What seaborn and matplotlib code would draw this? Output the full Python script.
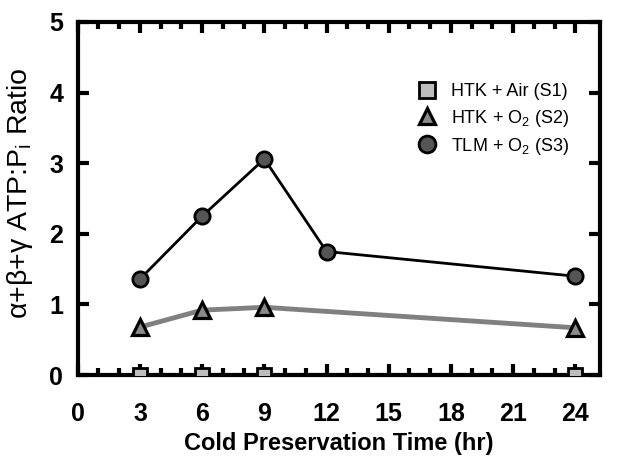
import matplotlib
matplotlib.use("Agg")
import matplotlib.pyplot as plt
import pandas as pd
import numpy as np
import seaborn as sns

# data
time_s1 = [3, 6, 9, 24]
ratio_s1 = [0.0, 0.0, 0.0, 0.0]
time_s2 = [3, 6, 9, 24]
ratio_s2 = [0.68, 0.92, 0.96, 0.67]
time_s3 = [3, 6, 9, 12, 24]
ratio_s3 = [1.36, 2.25, 3.06, 1.75, 1.40]

sns.set_style("ticks")
plt.rcParams['font.family'] = ['Liberation Sans', 'DejaVu Sans']
plt.rcParams['mathtext.default'] = 'regular'
plt.rcParams['text.color'] = 'black'
plt.rcParams['axes.labelcolor'] = 'black'
plt.rcParams['xtick.color'] = 'black'
plt.rcParams['ytick.color'] = 'black'
plt.rcParams['axes.edgecolor'] = 'black'

fig = plt.figure(figsize=(6.22, 4.66), dpi=100)
ax = fig.add_axes([0.125, 0.195, 0.84, 0.758])

sns.lineplot(x=time_s1, y=ratio_s1, ax=ax, color='#b0b0b0', lw=3, zorder=2)
sns.lineplot(x=time_s1, y=ratio_s1, ax=ax, color='none', lw=0, marker='s', markersize=10,
             markerfacecolor='#bdbdbd', markeredgecolor='black', markeredgewidth=2,
             label='HTK + Air (S1)', zorder=5)
sns.lineplot(x=time_s2, y=ratio_s2, ax=ax, color='#808080', lw=3.5, zorder=2)
sns.lineplot(x=time_s2, y=ratio_s2, ax=ax, color='none', lw=0, marker='^', markersize=11,
             markerfacecolor='#8a8a8a', markeredgecolor='black', markeredgewidth=2.3,
             label='HTK + O$_2$ (S2)', zorder=5)
sns.lineplot(x=time_s3, y=ratio_s3, ax=ax, color='black', lw=2, zorder=3)
sns.lineplot(x=time_s3, y=ratio_s3, ax=ax, color='none', lw=0, marker='o', markersize=11,
             markerfacecolor='#555555', markeredgecolor='black', markeredgewidth=2,
             label='TLM + O$_2$ (S3)', zorder=5)

ax.set_xlim(0, 25.2)
ax.set_ylim(0, 5)
ax.set_xticks(np.arange(0, 25, 3))
ax.set_xticks(np.arange(0, 25, 1), minor=True)
ax.set_yticks(np.arange(0, 6, 1))
ax.tick_params(which='both', direction='in', top=True, right=True, width=3,
               labelsize=18)
ax.tick_params(axis='x', pad=19)
ax.tick_params(axis='y', pad=10.5)
ax.tick_params(which='major', length=8)
ax.tick_params(which='minor', length=5)
for lab in ax.get_xticklabels() + ax.get_yticklabels():
    lab.set_fontweight('bold')
for sp in ax.spines.values():
    sp.set_linewidth(3)

ax.set_xlabel('Cold Preservation Time (hr)', fontsize=17, fontweight='bold', labelpad=5)
ax.set_ylabel('α+β+γ ATP:P$_i$ Ratio', fontsize=20.5)
ax.yaxis.set_label_coords(-0.082, 0.515)

leg = ax.legend(loc='upper right', bbox_to_anchor=(0.971, 0.872), frameon=False,
                fontsize=13, handletextpad=0.7, labelspacing=0.4, handlelength=1.2,
                markerscale=1.1)

fig.savefig('out.png', dpi=100)
